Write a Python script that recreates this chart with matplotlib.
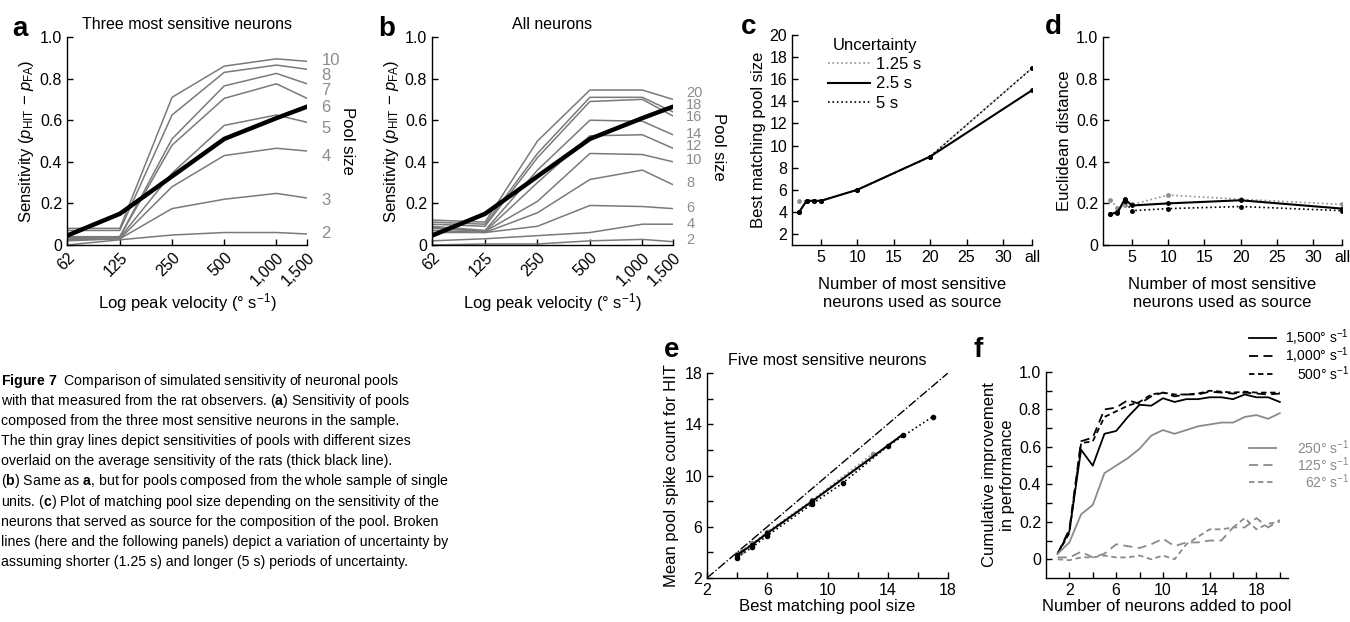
import numpy as np
import matplotlib
matplotlib.use("Agg")
import matplotlib.pyplot as plt
from matplotlib.lines import Line2D

plt.rcParams['font.family'] = ['Liberation Sans', 'DejaVu Sans']
plt.rcParams['mathtext.fontset'] = 'custom'
plt.rcParams['mathtext.rm'] = 'Liberation Sans'
plt.rcParams['mathtext.it'] = 'Liberation Sans:italic'
plt.rcParams['mathtext.bf'] = 'Liberation Sans:bold'
plt.rcParams['axes.linewidth'] = 1.0
plt.rcParams['xtick.direction'] = 'in'
plt.rcParams['ytick.direction'] = 'in'
plt.rcParams['xtick.major.size'] = 4
plt.rcParams['ytick.major.size'] = 4
plt.rcParams['xtick.minor.size'] = 4
plt.rcParams['ytick.minor.size'] = 4

# ---- data ----
velocities = [62, 125, 250, 500, 1000, 1500]
vel_labels = ["62", "125", "250", "500", "1,000", "1,500"]
rats = [0.045, 0.15, 0.33, 0.51, 0.61, 0.665]

# panel a: three most sensitive neurons, pool sizes
a_sizes = [2, 3, 4, 5, 6, 7, 8, 10]
a_p2 = [0.00, 0.025, 0.048, 0.06, 0.06, 0.053]
a_p3 = [0.02, 0.03, 0.175, 0.22, 0.248, 0.226]
a_p4 = [0.025, 0.03, 0.28, 0.43, 0.465, 0.452]
a_p5 = [0.03, 0.035, 0.345, 0.575, 0.625, 0.59]
a_p6 = [0.035, 0.04, 0.48, 0.705, 0.775, 0.705]
a_p7 = [0.04, 0.04, 0.51, 0.765, 0.825, 0.775]
a_p8 = [0.07, 0.07, 0.625, 0.83, 0.865, 0.845]
a_p10 = [0.08, 0.08, 0.71, 0.86, 0.895, 0.883]
a_label_y = [0.055, 0.215, 0.425, 0.56, 0.66, 0.745, 0.815, 0.885]

# panel b: all neurons
b_sizes = [2, 4, 6, 8, 10, 12, 14, 16, 18, 20]
b_p2 = [0.00, 0.005, 0.005, 0.02, 0.027, 0.016]
b_p4 = [0.02, 0.03, 0.045, 0.06, 0.10, 0.10]
b_p6 = [0.06, 0.06, 0.09, 0.19, 0.185, 0.175]
b_p8 = [0.07, 0.06, 0.155, 0.315, 0.36, 0.29]
b_p10 = [0.08, 0.065, 0.21, 0.44, 0.435, 0.40]
b_p12 = [0.085, 0.065, 0.30, 0.525, 0.53, 0.465]
b_p14 = [0.09, 0.07, 0.36, 0.60, 0.595, 0.53]
b_p16 = [0.10, 0.09, 0.42, 0.69, 0.70, 0.62]
b_p18 = [0.11, 0.10, 0.44, 0.71, 0.71, 0.64]
b_p20 = [0.12, 0.11, 0.50, 0.745, 0.745, 0.70]
b_label_y = [0.025, 0.10, 0.18, 0.30, 0.41, 0.474, 0.535, 0.615, 0.672, 0.73]

# panels c, d: number of most sensitive neurons used as source ("all" at 34)
n_source = [2, 3, 4, 5, 10, 20, 34]
c_125 = [5, 5, 5, 5, 6, 9, 17]
c_25 = [4, 5, 5, 5, 6, 9, 15]
c_5 = [4, 5, 5, 5, 6, 9, 17]
d_125 = [0.215, 0.18, 0.19, 0.195, 0.24, 0.22, 0.195]
d_25 = [0.15, 0.155, 0.22, 0.19, 0.20, 0.215, 0.175]
d_5 = [0.15, 0.16, 0.21, 0.165, 0.175, 0.185, 0.165]
unc_labels = ["1.25 s", "2.5 s", "5 s"]

# panel e: five most sensitive neurons
e_x25 = [4, 5, 6, 9, 15]
e_y25 = [3.8, 4.6, 5.5, 8.0, 13.2]
e_x125 = [4, 4.3, 5, 6, 9, 13]
e_y125 = [3.9, 4.1, 4.7, 5.6, 8.1, 11.7]
e_x5 = [4, 5, 6, 9, 11, 14, 17]
e_y5 = [3.6, 4.4, 5.3, 7.8, 9.4, 12.3, 14.6]

# panel f: cumulative improvement
n_added = list(range(1, 21))
f_1500 = [0.03, 0.15, 0.585, 0.50, 0.67, 0.685, 0.76, 0.825, 0.82, 0.86,
          0.84, 0.855, 0.855, 0.865, 0.865, 0.855, 0.88, 0.865, 0.865, 0.84]
f_1000 = [0.03, 0.16, 0.63, 0.65, 0.80, 0.81, 0.85, 0.83, 0.87, 0.89,
          0.87, 0.88, 0.88, 0.895, 0.89, 0.885, 0.89, 0.885, 0.88, 0.885]
f_500 = [0.03, 0.14, 0.62, 0.63, 0.76, 0.79, 0.82, 0.84, 0.88, 0.89,
         0.88, 0.88, 0.885, 0.90, 0.895, 0.89, 0.895, 0.89, 0.89, 0.89]
f_250 = [0.03, 0.09, 0.24, 0.29, 0.46, 0.50, 0.54, 0.59, 0.66, 0.69,
         0.67, 0.69, 0.71, 0.72, 0.73, 0.73, 0.76, 0.77, 0.75, 0.78]
f_125 = [0.01, 0.01, 0.04, 0.01, 0.03, 0.08, 0.07, 0.06, 0.08, 0.11,
         0.07, 0.09, 0.09, 0.10, 0.10, 0.17, 0.17, 0.22, 0.17, 0.21]
f_62 = [0.0, -0.005, 0.01, 0.01, 0.02, 0.01, 0.01, 0.02, 0.0, 0.02,
        0.0, 0.08, 0.12, 0.16, 0.16, 0.17, 0.22, 0.16, 0.19, 0.20]
f_names = [r"1,500$\degree$ s$^{-1}$", r"1,000$\degree$ s$^{-1}$", r"500$\degree$ s$^{-1}$",
           r"250$\degree$ s$^{-1}$", r"125$\degree$ s$^{-1}$", r"62$\degree$ s$^{-1}$"]

caption = [
    r"$\mathbf{Figure\ 7}$  Comparison of simulated sensitivity of neuronal pools",
    r"with that measured from the rat observers. ($\mathbf{a}$) Sensitivity of pools",
    r"composed from the three most sensitive neurons in the sample.",
    r"The thin gray lines depict sensitivities of pools with different sizes",
    r"overlaid on the average sensitivity of the rats (thick black line).",
    r"($\mathbf{b}$) Same as $\mathbf{a}$, but for pools composed from the whole sample of single",
    r"units. ($\mathbf{c}$) Plot of matching pool size depending on the sensitivity of the",
    r"neurons that served as source for the composition of the pool. Broken",
    r"lines (here and the following panels) depict a variation of uncertainty by",
    r"assuming shorter (1.25 s) and longer (5 s) periods of uncertainty.",
]

W, H = 1350, 622
TICK_FS = 11.5
LAB_FS = 12
fig = plt.figure(figsize=(W / 100, H / 100), dpi=100)


def px_axes(l, t, r, b):
    return fig.add_axes([l / W, 1 - b / H, (r - l) / W, (b - t) / H])


def style(ax):
    ax.spines['top'].set_visible(False)
    ax.spines['right'].set_visible(False)
    ax.tick_params(which='both', labelsize=TICK_FS, width=1)


def fig_text(x, y, s, **kw):
    fig.text(x / W, 1 - y / H, s, **kw)


GRAY = '#7a7a7a'
LBL = '#8c8c8c'
sens_label = r"Sensitivity ($p_{\mathrm{HIT}}$ $-$ $p_{\mathrm{FA}}$)"
vel_xlabel = r"Log peak velocity ($\degree$ s$^{-1}$)"


def sens_panel(ax, rows, sizes, label_y, fs, lab_x, pool_x, pool_y):
    for row in rows:
        ax.plot(velocities, row, color=GRAY, lw=1.1)
    ax.plot(velocities, rats, color='black', lw=3.2, solid_capstyle='round')
    ax.set_xscale('log')
    ax.set_xlim(62, 1500)
    ax.set_ylim(0, 1.0)
    ax.set_xticks(velocities)
    ax.set_xticklabels(vel_labels, rotation=45, ha='right', rotation_mode='anchor')
    ax.minorticks_off()
    ax.set_yticks([0, 0.2, 0.4, 0.6, 0.8, 1.0])
    ax.set_yticklabels(["0", "0.2", "0.4", "0.6", "0.8", "1.0"])
    ax.set_ylabel(sens_label, fontsize=LAB_FS, labelpad=3)
    ax.set_xlabel(vel_xlabel, fontsize=LAB_FS, labelpad=2)
    for s, y in zip(sizes, label_y):
        ax.text(lab_x, y, str(s), transform=ax.get_yaxis_transform(), color=LBL,
                fontsize=fs, va='center', ha='left', clip_on=False)
    ax.text(pool_x, pool_y, "Pool size", transform=ax.transAxes, rotation=-90,
            fontsize=LAB_FS, va='center', ha='center')
    style(ax)


# ---- a ----
ax_a = px_axes(67, 37, 307, 245)
sens_panel(ax_a, [a_p2, a_p3, a_p4, a_p5, a_p6, a_p7, a_p8, a_p10], a_sizes,
           a_label_y, 12, 1.06, 1.17, 0.50)
ax_a.set_title("Three most sensitive neurons", fontsize=11.5, pad=6)

# ---- b ----
ax_b = px_axes(432, 37, 673, 245)
sens_panel(ax_b, [b_p2, b_p4, b_p6, b_p8, b_p10, b_p12, b_p14, b_p16, b_p18, b_p20],
           b_sizes, b_label_y, 10.5, 1.055, 1.19, 0.47)
ax_b.set_title("All neurons", fontsize=11.5, pad=6)

# ---- c ----
ax_c = px_axes(792, 35, 1032, 245)
ax_c.plot(n_source, c_125, color='#909090', ls=':', lw=1.2, marker='o', ms=2.5)
ax_c.plot(n_source, c_25, color='black', ls='-', lw=1.5, marker='o', ms=2.5)
ax_c.plot(n_source, c_5, color='black', ls=':', lw=1.2, marker='o', ms=2.5)
ax_c.set_xlim(1, 34)
ax_c.set_ylim(1, 20)
ax_c.set_yticks(range(2, 21, 2))
ax_c.set_xticks([5, 10, 15, 20, 25, 30, 34])
ax_c.set_xticklabels(["5", "10", "15", "20", "25", "30", "all"])
ax_c.set_ylabel("Best matching pool size", fontsize=LAB_FS, labelpad=2)
ax_c.set_xlabel("Number of most sensitive\nneurons used as source", fontsize=LAB_FS, labelpad=9)
handles = [Line2D([], [], color='#909090', ls=':', lw=1.2),
           Line2D([], [], color='black', ls='-', lw=1.5),
           Line2D([], [], color='black', ls=':', lw=1.2)]
ax_c.legend(handles, unc_labels, title="Uncertainty", loc='upper left',
            bbox_to_anchor=(0.15, 0.985), frameon=False, fontsize=LAB_FS,
            title_fontsize=LAB_FS, handlelength=2.5, handletextpad=0.4,
            labelspacing=0.25, borderpad=0, borderaxespad=0)
style(ax_c)

# ---- d ----
ax_d = px_axes(1103, 37, 1342, 245)
ax_d.plot(n_source, d_125, color='#909090', ls=':', lw=1.2, marker='o', ms=2.5)
ax_d.plot(n_source, d_25, color='black', ls='-', lw=1.5, marker='o', ms=2.5)
ax_d.plot(n_source, d_5, color='black', ls=':', lw=1.2, marker='o', ms=2.5)
ax_d.set_xlim(1, 34)
ax_d.set_ylim(0, 1.0)
ax_d.set_yticks([0, 0.2, 0.4, 0.6, 0.8, 1.0])
ax_d.set_yticklabels(["0", "0.2", "0.4", "0.6", "0.8", "1.0"])
ax_d.set_xticks([5, 10, 15, 20, 25, 30, 34])
ax_d.set_xticklabels(["5", "10", "15", "20", "25", "30", "all"])
ax_d.set_ylabel("Euclidean distance", fontsize=LAB_FS, labelpad=3)
ax_d.set_xlabel("Number of most sensitive\nneurons used as source", fontsize=LAB_FS, labelpad=9)
style(ax_d)

# ---- e ----
ax_e = px_axes(707, 373, 948, 578)
ax_e.plot([2, 18], [2, 18], color='black', ls='-.', lw=1.0)
ax_e.plot(e_x125, e_y125, color='#909090', ls=':', lw=1.2, marker='o', ms=3)
ax_e.plot(e_x5, e_y5, color='black', ls=':', lw=1.2, marker='o', ms=3)
ax_e.plot(e_x25, e_y25, color='black', ls='-', lw=1.5, marker='o', ms=3)
ax_e.set_xlim(2, 18)
ax_e.set_ylim(2, 18)
ax_e.set_xticks([2, 6, 10, 14, 18])
ax_e.set_xticks([4, 8, 12, 16], minor=True)
ax_e.set_yticks([2, 6, 10, 14, 18])
ax_e.set_yticks([4, 8, 12, 16], minor=True)
ax_e.set_ylabel("Mean pool spike count for HIT", fontsize=LAB_FS, labelpad=4)
ax_e.set_xlabel("Best matching pool size", fontsize=LAB_FS, labelpad=1)
ax_e.set_title("Five most sensitive neurons", fontsize=11.5, pad=6)
style(ax_e)

# ---- f ----
ax_f = px_axes(1046, 372, 1288, 578)
f_series = [(f_1500, 'black', '-'), (f_1000, 'black', (0, (5, 3))), (f_500, 'black', (0, (3, 2))),
            (f_250, '#8a8a8a', '-'), (f_125, '#8a8a8a', (0, (5, 3))), (f_62, '#8a8a8a', (0, (3, 2)))]
for vals, col, ls in f_series:
    ax_f.plot(n_added, vals, color=col, ls=ls, lw=1.3)
ax_f.set_xlim(0, 20.7)
ax_f.set_ylim(-0.1, 1.0)
ax_f.set_xticks([2, 6, 10, 14, 18])
ax_f.set_xticks([4, 8, 12, 16, 20], minor=True)
ax_f.set_yticks([0, 0.2, 0.4, 0.6, 0.8, 1.0])
ax_f.set_yticklabels(["0", "0.2", "0.4", "0.6", "0.8", "1.0"])
ax_f.set_yticks([0.1, 0.3, 0.5, 0.7, 0.9], minor=True)
ax_f.set_ylabel("Cumulative improvement\nin performance", fontsize=LAB_FS, labelpad=3)
ax_f.set_xlabel("Number of neurons added to pool", fontsize=LAB_FS, labelpad=1)
style(ax_f)

# legend of f drawn in figure pixels
leg_y = [338, 356, 374, 448, 465, 482]
for (vals, col, ls), name, y in zip(f_series, f_names, leg_y):
    fig.add_artist(Line2D([1249 / W, 1276 / W], [1 - y / H, 1 - y / H], color=col, ls=ls,
                          lw=1.3, transform=fig.transFigure))
    fig_text(1349, y, name, color=col, fontsize=10, ha='right', va='center')

# panel letters
for s, x, y in [("a", 12, 16), ("b", 378, 16), ("c", 741, 14), ("d", 1045, 14),
                ("e", 664, 337), ("f", 973, 337)]:
    fig_text(x, y, s, fontsize=20, fontweight='bold', va='top', ha='left')

# caption
for i, line in enumerate(caption):
    fig_text(1, 385 + i * 20.1, line, fontsize=10.2, va='baseline', ha='left')

fig.savefig("out.png", dpi=100)
